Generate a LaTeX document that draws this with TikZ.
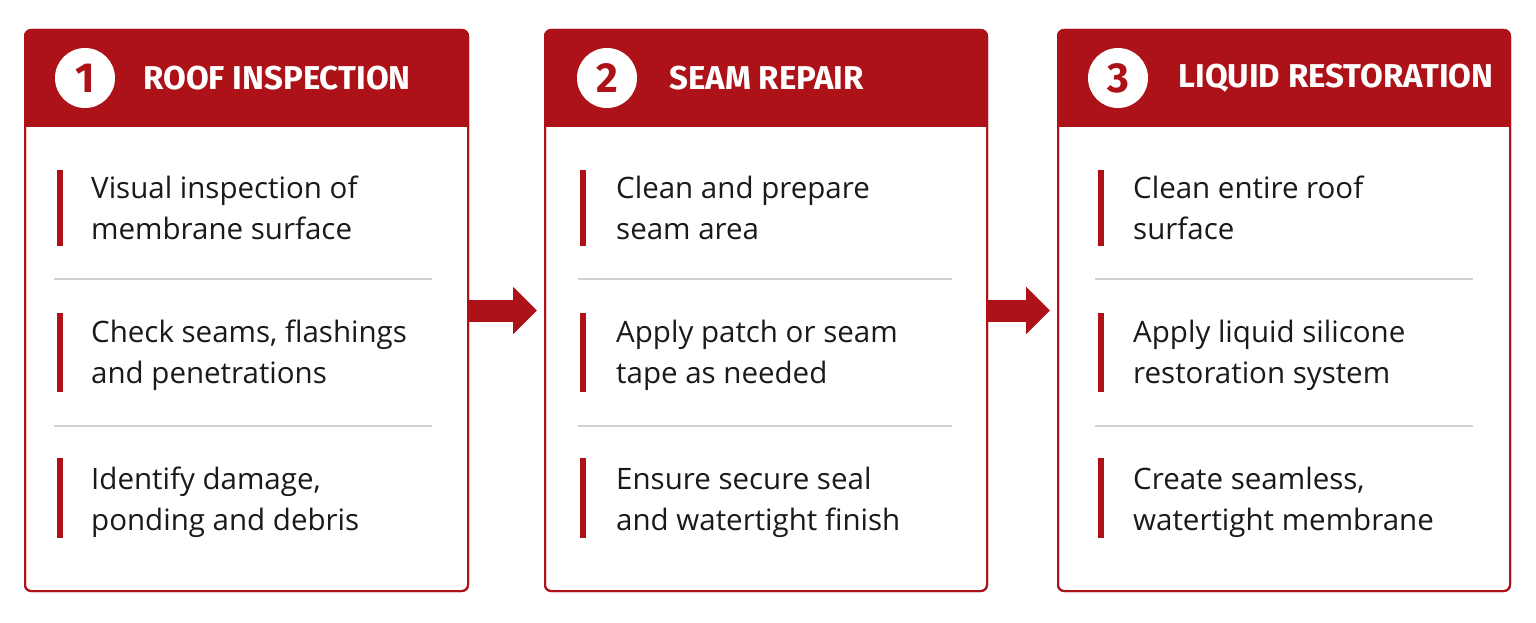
\documentclass[tikz,border=0pt]{standalone}
\usepackage{fontspec}
\setmainfont{Open Sans}
\newfontfamily\headfont{Fira Sans}
\usetikzlibrary{positioning, arrows.meta, calc}
\definecolor{roofRed}{HTML}{AC1218}
\definecolor{sepGray}{HTML}{D2D2D2}
\definecolor{inkBlack}{HTML}{1A1A1A}

\begin{document}
\begin{tikzpicture}[
  x=1pt, y=-1pt,
  panel/.style={draw=roofRed, line width=2pt, fill=white, rounded corners=6pt,
                minimum height=561pt, inner sep=0pt, outer sep=0pt},
  rim/.style={draw=roofRed, line width=2pt, rounded corners=6pt},
  numdot/.style={circle, fill=white, minimum size=60pt, inner sep=0pt,
                 text=roofRed, font=\headfont\bfseries\fontsize{42}{42}\selectfont},
  title/.style={inner sep=0pt, text=white,
                font=\headfont\bfseries\fontsize{33}{33}\selectfont},
  item/.style={anchor=west, align=left, inner sep=0pt, text=inkBlack,
               font=\fontsize{29.5}{41}\selectfont},
  sep/.style={draw=sepGray, line width=1.5pt},
  flow/.style={line width=22pt, roofRed, shorten >=8pt,
               -{Triangle[length=24pt, width=46pt]}}
]
\useasboundingbox (0,0) rectangle (1536,623);

% panels
\node[panel, minimum width=443pt] (p1) at (246.5,310.5) {};
\node[panel, minimum width=442pt] (p2) at (766,310.5) {};
\node[panel, minimum width=452pt] (p3) at (1284,310.5) {};

% header bands
\foreach \p in {p1,p2,p3} {
  \fill[roofRed, rounded corners=6pt] (\p.north west) rectangle ([yshift=-97pt]\p.north east);
  \fill[roofRed] ([yshift=-80pt]\p.north west) rectangle ([yshift=-97pt]\p.north east);
  \draw[rim] (\p.north west) rectangle (\p.south east);
}

% headers
\node[numdot] (n1) at (85,78) {1};
\node[title, right=28pt of n1] (h1) {ROOF INSPECTION};
\node[numdot] (n2) at (607,78) {2};
\node[title, right=32pt of n2] (h2) {SEAM REPAIR};
\node[numdot] (n3) at (1118,78) {3};
\node[title, right=30pt of n3] (h3) {LIQUID RESTORATION};

% step 1
\fill[roofRed] (57,170) rectangle (63,246);
\node[item] (t11) at (91,208) {Visual inspection of\\membrane surface};
\draw[sep] (54,279) -- (432,279);
\fill[roofRed] (57,313) rectangle (63,392);
\node[item] (t12) at (91,355) {Check seams, flashings\\and penetrations};
\draw[sep] (54,426) -- (432,426);
\fill[roofRed] (57,458) rectangle (63,538);
\node[item] (t13) at (91,502) {Identify damage,\\ponding and debris};

% step 2
\fill[roofRed] (580,170) rectangle (586,246);
\node[item] (t21) at (616,208) {Clean and prepare\\seam area};
\draw[sep] (578,279) -- (952,279);
\fill[roofRed] (580,313) rectangle (586,392);
\node[item] (t22) at (616,355) {Apply patch or seam\\tape as needed};
\draw[sep] (578,426) -- (952,426);
\fill[roofRed] (580,458) rectangle (586,538);
\node[item] (t23) at (616,502) {Ensure secure seal\\and watertight finish};

% step 3
\fill[roofRed] (1098,170) rectangle (1104,246);
\node[item] (t31) at (1133,208) {Clean entire roof\\surface};
\draw[sep] (1095,279) -- (1473,279);
\fill[roofRed] (1098,313) rectangle (1104,392);
\node[item] (t32) at (1133,355) {Apply liquid silicone\\restoration system};
\draw[sep] (1095,426) -- (1473,426);
\fill[roofRed] (1098,458) rectangle (1104,538);
\node[item] (t33) at (1133,502) {Create seamless,\\watertight membrane};

% flow arrows
\draw[flow] (p1.east) -- (p2.west);
\draw[flow] (p2.east) -- (p3.west);
\end{tikzpicture}
\end{document}
